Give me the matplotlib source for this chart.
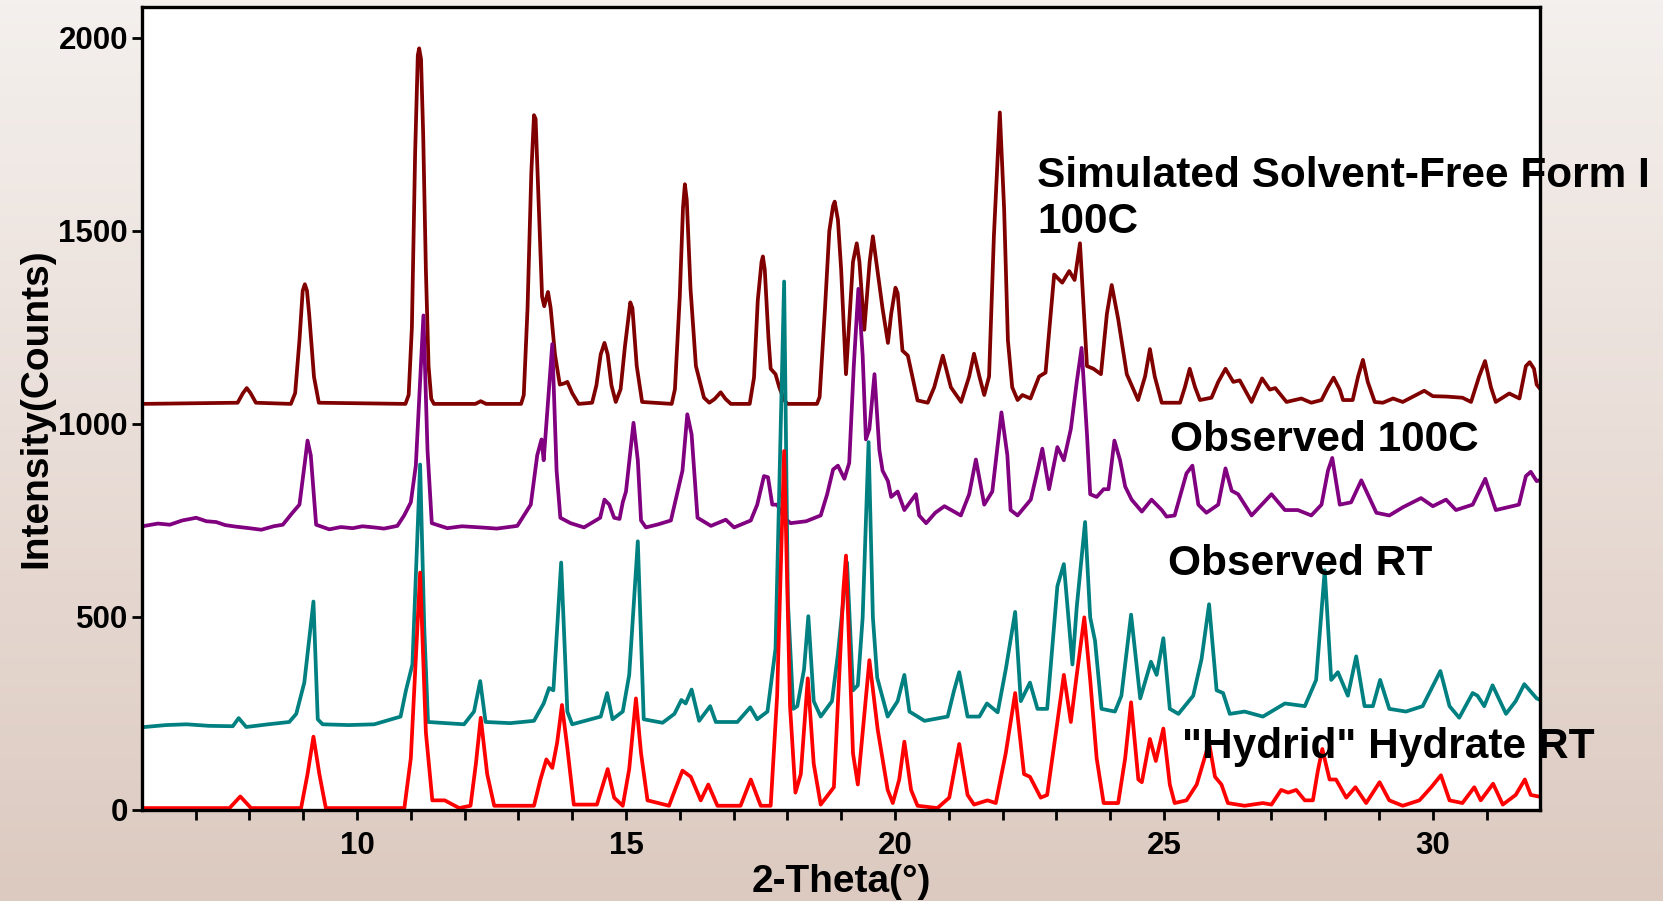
import numpy as np
import matplotlib
matplotlib.use('Agg')
import matplotlib.pyplot as plt
from matplotlib.colors import LinearSegmentedColormap

plt.rcParams['font.family'] = ['Liberation Sans', 'DejaVu Sans']
plt.rcParams['font.weight'] = 'bold'

# (2-theta, counts), one list per pattern
sim_100c = [
    (6.00, 1052), (7.78, 1055), (7.88, 1080), (7.95, 1093), (8.02, 1080), (8.12, 1055),
    (8.77, 1052), (8.85, 1080), (8.93, 1217), (8.99, 1345), (9.03, 1362), (9.07, 1345),
    (9.11, 1285), (9.20, 1122), (9.29, 1055), (10.90, 1052), (10.96, 1075), (11.02, 1250),
    (11.08, 1700), (11.13, 1955), (11.155, 1973), (11.19, 1945), (11.23, 1750), (11.28, 1400),
    (11.33, 1150), (11.38, 1065), (11.43, 1052), (12.20, 1052), (12.30, 1059), (12.40, 1052),
    (13.05, 1052), (13.10, 1075), (13.17, 1300), (13.24, 1650), (13.29, 1800), (13.32, 1790),
    (13.37, 1600), (13.44, 1330), (13.48, 1305), (13.55, 1342), (13.60, 1300), (13.68, 1180),
    (13.77, 1102), (13.85, 1105), (13.91, 1109), (14.00, 1080), (14.12, 1052), (14.37, 1055),
    (14.45, 1100), (14.53, 1180), (14.60, 1210), (14.66, 1180), (14.73, 1100), (14.81, 1057),
    (14.90, 1090), (14.98, 1200), (15.08, 1315), (15.12, 1300), (15.20, 1150), (15.30, 1057),
    (15.85, 1052), (15.91, 1090), (16.00, 1330), (16.06, 1560), (16.095, 1621), (16.13, 1580),
    (16.20, 1350), (16.30, 1150), (16.45, 1068), (16.55, 1055), (16.65, 1065), (16.76, 1082),
    (16.85, 1065), (16.95, 1052), (17.30, 1052), (17.38, 1120), (17.45, 1320), (17.52, 1420),
    (17.545, 1434), (17.58, 1400), (17.65, 1220), (17.69, 1143), (17.78, 1129), (17.85, 1095),
    (17.94, 1062), (18.00, 1052), (18.55, 1052), (18.60, 1070), (18.70, 1300), (18.78, 1500),
    (18.85, 1565), (18.88, 1576), (18.94, 1529), (19.00, 1400), (19.05, 1250), (19.09, 1129),
    (19.22, 1420), (19.29, 1468), (19.34, 1420), (19.43, 1244), (19.53, 1420), (19.59, 1486),
    (19.68, 1393), (19.77, 1299), (19.87, 1210), (19.93, 1285), (20.01, 1353), (20.05, 1339),
    (20.14, 1190), (20.24, 1177), (20.42, 1061), (20.61, 1055), (20.73, 1095), (20.89, 1177),
    (21.04, 1095), (21.23, 1057), (21.38, 1123), (21.47, 1182), (21.57, 1123), (21.66, 1075),
    (21.75, 1123), (21.84, 1488), (21.95, 1807), (22.03, 1556), (22.10, 1217), (22.18, 1095),
    (22.28, 1062), (22.37, 1075), (22.52, 1066), (22.68, 1123), (22.80, 1133), (22.96, 1387),
    (23.11, 1366), (23.24, 1396), (23.34, 1373), (23.44, 1468), (23.57, 1150), (23.69, 1143),
    (23.83, 1129), (23.94, 1285), (24.03, 1360), (24.15, 1272), (24.31, 1129), (24.52, 1062),
    (24.65, 1123), (24.74, 1194), (24.83, 1123), (24.96, 1055), (25.30, 1055), (25.39, 1095),
    (25.48, 1143), (25.58, 1095), (25.67, 1062), (25.885, 1068), (26.01, 1109), (26.145, 1143),
    (26.29, 1109), (26.41, 1113), (26.63, 1057), (26.75, 1095), (26.825, 1118), (26.97, 1089),
    (27.07, 1093), (27.28, 1057), (27.555, 1066), (27.74, 1055), (27.93, 1062), (28.05, 1095),
    (28.155, 1120), (28.27, 1089), (28.33, 1062), (28.51, 1062), (28.61, 1123), (28.70, 1166),
    (28.79, 1109), (28.92, 1057), (29.07, 1055), (29.26, 1066), (29.44, 1057), (29.84, 1086),
    (30.00, 1072), (30.25, 1071), (30.55, 1068), (30.71, 1057), (30.86, 1123), (30.97, 1163),
    (31.08, 1095), (31.17, 1057), (31.42, 1079), (31.61, 1066), (31.73, 1150), (31.80, 1160),
    (31.88, 1143), (31.93, 1102), (32.00, 1090),
]

obs_100c = [
    (6.00, 733), (6.05, 736), (6.30, 742), (6.52, 739), (6.75, 750), (7.01, 757), (7.20, 748),
    (7.38, 746), (7.55, 738), (7.75, 734), (8.00, 730), (8.22, 726), (8.45, 735), (8.62, 739),
    (8.80, 770), (8.93, 791), (9.03, 900), (9.08, 957), (9.14, 919), (9.24, 739), (9.485, 727),
    (9.70, 733), (9.92, 730), (10.10, 735), (10.32, 732), (10.50, 729), (10.75, 736),
    (10.876, 763), (11.00, 797), (11.093, 892), (11.235, 1281), (11.31, 933), (11.39, 743),
    (11.68, 730), (11.95, 735), (12.30, 732), (12.60, 729), (12.98, 736), (13.23, 791),
    (13.35, 919), (13.43, 960), (13.47, 906), (13.63, 1207), (13.71, 879), (13.78, 757),
    (13.97, 743), (14.22, 732), (14.52, 757), (14.60, 804), (14.69, 791), (14.78, 757),
    (14.88, 754), (14.94, 797), (15.00, 825), (15.14, 1003), (15.22, 906), (15.28, 750),
    (15.37, 732), (15.60, 740), (15.835, 750), (15.96, 825), (16.05, 879), (16.14, 1025),
    (16.22, 973), (16.33, 757), (16.58, 736), (16.855, 752), (17.01, 732), (17.32, 750),
    (17.44, 791), (17.565, 865), (17.64, 862), (17.72, 791), (17.81, 791), (17.94, 757),
    (18.06, 743), (18.35, 748), (18.62, 763), (18.74, 818), (18.85, 882), (18.94, 892),
    (19.06, 858), (19.15, 899), (19.235, 1150), (19.32, 1350), (19.40, 1177), (19.46, 960),
    (19.525, 987), (19.62, 1129), (19.71, 933), (19.77, 879), (19.87, 852), (19.93, 811),
    (20.05, 825), (20.175, 777), (20.39, 818), (20.45, 763), (20.58, 743), (20.75, 770),
    (20.92, 787), (21.225, 763), (21.38, 818), (21.505, 908), (21.66, 791), (21.81, 825),
    (21.98, 1030), (22.09, 919), (22.15, 777), (22.28, 763), (22.525, 804), (22.65, 879),
    (22.74, 936), (22.865, 831), (23.02, 940), (23.14, 906), (23.27, 987), (23.38, 1109),
    (23.47, 1197), (23.57, 973), (23.63, 818), (23.75, 811), (23.88, 831), (23.97, 831),
    (24.08, 957), (24.185, 906), (24.28, 838), (24.40, 804), (24.59, 773), (24.77, 804),
    (24.96, 777), (25.05, 760), (25.20, 763), (25.42, 872), (25.53, 892), (25.64, 791),
    (25.79, 770), (26.01, 791), (26.145, 885), (26.26, 827), (26.38, 818), (26.63, 763),
    (27.00, 818), (27.25, 777), (27.49, 777), (27.74, 763), (27.93, 791), (28.05, 879),
    (28.13, 912), (28.27, 791), (28.48, 797), (28.67, 854), (28.95, 770), (29.19, 763),
    (29.44, 784), (29.78, 808), (30.00, 787), (30.245, 804), (30.43, 777), (30.74, 791),
    (30.975, 858), (31.17, 777), (31.60, 791), (31.73, 865), (31.82, 876), (31.93, 852),
    (32.00, 855),
]

obs_rt = [
    (6.00, 215), (6.05, 215), (6.45, 220), (6.83, 222), (7.25, 218), (7.69, 217), (7.80, 238),
    (7.94, 215), (8.35, 222), (8.74, 228), (8.87, 249), (9.02, 330), (9.19, 540), (9.27, 235),
    (9.36, 222), (9.85, 220), (10.32, 222), (10.81, 242), (10.91, 310), (11.03, 377),
    (11.173, 895), (11.25, 472), (11.32, 228), (11.99, 222), (12.175, 255), (12.29, 334),
    (12.39, 228), (12.85, 225), (13.29, 231), (13.47, 276), (13.57, 316), (13.65, 310),
    (13.795, 641), (13.91, 255), (14.00, 222), (14.53, 242), (14.65, 303), (14.75, 235),
    (14.94, 255), (15.06, 350), (15.22, 696), (15.33, 235), (15.68, 226), (15.90, 249),
    (16.03, 285), (16.11, 276), (16.22, 312), (16.36, 231), (16.565, 269), (16.67, 228),
    (17.07, 228), (17.31, 266), (17.44, 235), (17.63, 255), (17.78, 418), (17.94, 1369),
    (18.01, 540), (18.11, 262), (18.185, 269), (18.31, 364), (18.39, 502), (18.49, 282),
    (18.62, 242), (18.83, 282), (18.94, 404), (19.11, 641), (19.22, 310), (19.31, 323),
    (19.40, 499), (19.51, 953), (19.59, 499), (19.67, 343), (19.865, 242), (20.05, 282),
    (20.175, 350), (20.27, 255), (20.55, 231), (20.98, 242), (21.10, 310), (21.195, 357),
    (21.35, 242), (21.57, 242), (21.71, 276), (21.91, 253), (22.06, 364), (22.235, 513),
    (22.34, 282), (22.51, 330), (22.65, 262), (22.83, 262), (23.02, 580), (23.14, 637),
    (23.30, 377), (23.38, 526), (23.535, 746), (23.63, 499), (23.72, 438), (23.84, 262),
    (24.09, 255), (24.21, 296), (24.39, 506), (24.56, 289), (24.76, 384), (24.865, 350),
    (24.99, 445), (25.11, 262), (25.27, 249), (25.545, 296), (25.70, 391), (25.84, 533),
    (25.98, 310), (26.10, 303), (26.225, 249), (26.50, 255), (26.84, 242), (27.25, 276),
    (27.62, 269), (27.83, 337), (27.99, 621), (28.11, 337), (28.235, 357), (28.42, 296),
    (28.575, 398), (28.73, 269), (28.885, 269), (29.02, 337), (29.19, 262), (29.50, 255),
    (29.81, 269), (30.14, 360), (30.31, 269), (30.49, 239), (30.74, 303), (30.83, 296),
    (30.955, 269), (31.11, 323), (31.36, 249), (31.54, 282), (31.70, 326), (31.93, 289),
    (32.00, 285),
]

hydrate_rt = [
    (6.00, 5), (7.63, 5), (7.83, 35), (8.03, 5), (8.96, 5), (9.08, 93), (9.19, 190), (9.30, 93),
    (9.42, 5), (10.88, 5), (11.00, 134), (11.173, 615), (11.28, 201), (11.40, 25), (11.63, 25),
    (11.90, 5), (12.11, 11), (12.21, 120), (12.30, 239), (12.42, 93), (12.55, 11), (13.29, 11),
    (13.41, 79), (13.52, 131), (13.63, 109), (13.72, 174), (13.81, 272), (13.91, 161),
    (14.03, 14), (14.46, 14), (14.66, 106), (14.78, 32), (14.94, 11), (15.06, 106),
    (15.185, 289), (15.28, 147), (15.40, 25), (15.80, 11), (15.93, 59), (16.05, 102),
    (16.205, 86), (16.39, 25), (16.53, 66), (16.70, 11), (17.13, 11), (17.32, 79), (17.505, 11),
    (17.69, 11), (17.81, 296), (17.94, 930), (18.05, 269), (18.15, 45), (18.25, 93),
    (18.38, 341), (18.49, 120), (18.62, 14), (18.865, 59), (19.04, 567), (19.09, 659),
    (19.22, 147), (19.31, 66), (19.40, 201), (19.525, 388), (19.68, 208), (19.865, 52),
    (19.96, 18), (20.08, 79), (20.175, 177), (20.30, 52), (20.42, 11), (20.79, 5), (21.01, 32),
    (21.195, 171), (21.35, 39), (21.47, 14), (21.72, 25), (21.875, 18), (22.06, 147),
    (22.235, 303), (22.40, 93), (22.51, 86), (22.71, 32), (22.83, 39), (23.02, 228),
    (23.14, 350), (23.27, 228), (23.38, 350), (23.52, 499), (23.63, 337), (23.75, 134),
    (23.88, 18), (24.15, 18), (24.28, 134), (24.39, 279), (24.525, 79), (24.59, 72),
    (24.74, 184), (24.85, 127), (24.99, 211), (25.11, 66), (25.20, 18), (25.42, 25),
    (25.61, 66), (25.84, 174), (25.95, 86), (26.07, 66), (26.19, 18), (26.50, 11), (26.84, 18),
    (27.00, 14), (27.18, 52), (27.31, 45), (27.46, 52), (27.62, 25), (27.77, 25), (27.86, 100),
    (27.945, 158), (28.08, 79), (28.20, 79), (28.39, 32), (28.56, 59), (28.76, 18), (29.01, 72),
    (29.19, 25), (29.44, 11), (29.75, 25), (29.97, 59), (30.15, 90), (30.31, 25), (30.55, 18),
    (30.77, 59), (30.89, 25), (31.12, 68), (31.30, 14), (31.54, 39), (31.71, 79), (31.82, 39),
    (31.93, 36), (32.00, 34),
]

series_names = ['Simulated Solvent-Free Form I', 'Observed 100C', 'Observed RT', '"Hydrid" Hydrate RT']
series_data = [sim_100c, obs_100c, obs_rt, hydrate_rt]
series_colors = ['#800000', '#800080', '#008080', '#ff0000']

fig = plt.figure(figsize=(16.63, 9.01), dpi=100)

# soft vertical gradient behind everything
bg = fig.add_axes([0, 0, 1, 1], zorder=0)
cmap = LinearSegmentedColormap.from_list('bg', ['#f4f0ed', '#e9ddd7', '#dccac0'])
bg.imshow(np.linspace(0, 1, 256).reshape(-1, 1), cmap=cmap, aspect='auto', extent=[0, 1, 0, 1])
bg.axis('off')

ax = fig.add_axes([0.0853, 0.101, 0.841, 0.8916], zorder=1)
ax.set_facecolor('white')

for pts, color in zip(series_data, series_colors):
    pts = np.array(pts)
    ax.plot(pts[:, 0], pts[:, 1], color=color, lw=2.7, solid_joinstyle='round')

ax.set_xlim(6, 32)
ax.set_ylim(0, 2081)
ax.set_xticks(np.arange(7, 32, 1))
ax.set_xticklabels([str(t) if t % 5 == 0 else '' for t in range(7, 32)])
ax.set_yticks([0, 500, 1000, 1500, 2000])
ax.tick_params(axis='both', labelsize=22.5, width=2, length=7, direction='out')
ax.tick_params(axis='x', pad=8)
ax.tick_params(axis='y', pad=3)
for lab in ax.get_xticklabels() + ax.get_yticklabels():
    lab.set_fontweight('bold')
for sp in ax.spines.values():
    sp.set_linewidth(2.4)

ax.set_xlabel('2-Theta(°)', fontsize=28, fontweight='bold', labelpad=2)
ax.set_ylabel('Intensity(Counts)', fontsize=28, fontweight='bold', labelpad=3)

ax.text(22.65, 1614, series_names[0], fontsize=30.5, fontweight='bold', va='baseline')
ax.text(22.65, 1495, '100C', fontsize=30.5, fontweight='bold', va='baseline')
ax.text(25.12, 930, series_names[1], fontsize=30.5, fontweight='bold', va='baseline')
ax.text(25.08, 608, series_names[2], fontsize=30.5, fontweight='bold', va='baseline')
ax.text(25.33, 134, series_names[3], fontsize=30.5, fontweight='bold', va='baseline')

fig.savefig('out.png', dpi=100)
plt.close(fig)
